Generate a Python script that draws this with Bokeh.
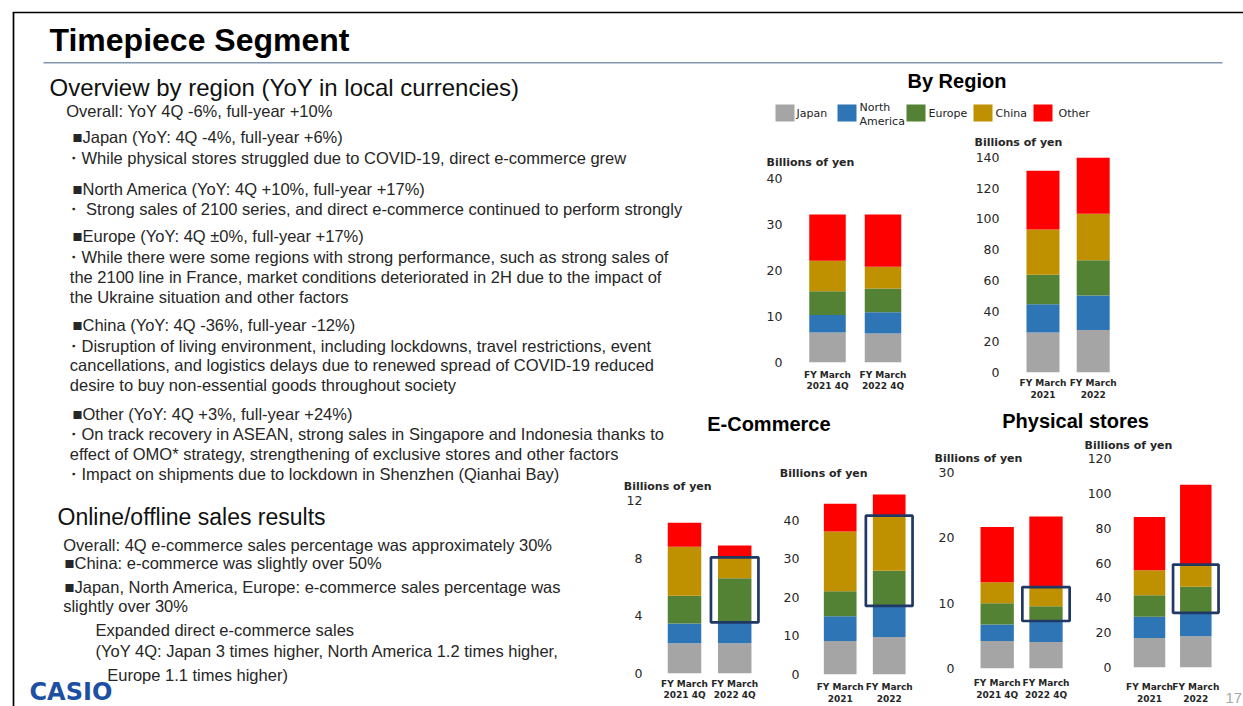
from bokeh.plotting import figure
from bokeh.models import Range1d, ColumnDataSource, FixedTicker, GridBox
from bokeh.core.properties import value
from bokeh.embed import file_html
from bokeh.resources import INLINE

# ---------------- data ----------------
regions = ["Japan", "North America", "Europe", "China", "Other"]
region_colors = ["#A5A5A5", "#2E75B6", "#548235", "#BF9000", "#FF0000"]

periods_4q = ["FY March\n2021 4Q", "FY March\n2022 4Q"]
periods_fy = ["FY March\n2021", "FY March\n2022"]

by_region_4q = {"Japan": [6.5, 6.3], "North America": [3.8, 4.6], "Europe": [5.2, 5.2],
                "China": [6.6, 4.7], "Other": [10.1, 11.4]}
by_region_fy = {"Japan": [26.0, 27.6], "North America": [18.5, 22.5], "Europe": [19.1, 23.0],
                "China": [29.5, 30.2], "Other": [38.2, 36.7]}
ecommerce_4q = {"Japan": [2.1, 2.1], "North America": [1.36, 1.45], "Europe": [1.94, 3.05],
                "China": [3.4, 1.45], "Other": [1.66, 0.82]}
ecommerce_fy = {"Japan": [8.7, 9.7], "North America": [6.4, 8.1], "Europe": [6.5, 9.1],
                "China": [15.5, 14.3], "Other": [7.2, 5.5]}
stores_4q = {"Japan": [4.2, 4.07], "North America": [2.55, 3.2], "Europe": [3.25, 2.25],
             "China": [3.2, 2.95], "Other": [8.45, 10.8]}
stores_fy = {"Japan": [16.9, 18.0], "North America": [12.3, 13.4], "Europe": [12.3, 14.9],
             "China": [14.3, 12.8], "Other": [30.6, 45.8]}

ticks_region_4q = [0, 10, 20, 30, 40]
ticks_region_fy = [0, 20, 40, 60, 80, 100, 120, 140]
ticks_ecom_4q = [0, 4, 8, 12]
ticks_ecom_fy = [0, 10, 20, 30, 40]
ticks_store_4q = [0, 10, 20, 30]
ticks_store_fy = [0, 20, 40, 60, 80, 100, 120]

unit_text = "Billions of yen"
boxed_base = ["Japan", "North America"]
boxed_segments = ["Europe", "China"]

title_text = "Timepiece Segment"
overview_heading = "Overview by region (YoY in local currencies)"
overview_lines = [
    "Overall: YoY 4Q -6%, full-year +10%",
    "■Japan (YoY: 4Q -4%, full-year +6%)",
    "・While physical stores struggled due to COVID-19, direct e-commerce grew",
    "■North America (YoY: 4Q +10%, full-year +17%)",
    "・ Strong sales of 2100 series, and direct e-commerce continued to perform strongly",
    "■Europe (YoY: 4Q ±0%, full-year +17%)",
    "・While there were some regions with strong performance, such as strong sales of",
    "the 2100 line in France, market conditions deteriorated in 2H due to the impact of",
    "the Ukraine situation and other factors",
    "■China (YoY: 4Q -36%, full-year -12%)",
    "・Disruption of living environment, including lockdowns, travel restrictions, event",
    "cancellations, and logistics delays due to renewed spread of COVID-19 reduced",
    "desire to buy non-essential goods throughout society",
    "■Other (YoY: 4Q +3%, full-year +24%)",
    "・On track recovery in ASEAN, strong sales in Singapore and Indonesia thanks to",
    "effect of OMO* strategy, strengthening of exclusive stores and other factors",
    "・Impact on shipments due to lockdown in Shenzhen (Qianhai Bay)",
]
online_heading = "Online/offline sales results"
online_lines = [
    "Overall: 4Q e-commerce sales percentage was approximately 30%",
    "■China: e-commerce was slightly over 50%",
    "■Japan, North America, Europe: e-commerce sales percentage was",
    "slightly over 30%",
    "Expanded direct e-commerce sales",
    "(YoY 4Q: Japan 3 times higher, North America 1.2 times higher,",
    "Europe 1.1 times higher)",
]
section_titles = ["By Region", "E-Commerce", "Physical stores"]

# ---------------- layout (slide pixel positions, baselines) ----------------
X0, X1, Y0, Y1 = 0, 1243, 0, 706
overview_x = [65.7, 72, 64, 72, 64, 72, 64, 69.3, 69.3, 72, 64, 69.3, 69.3, 72, 64, 69.3, 64]
overview_y = [116.7, 142.7, 163.3, 194, 214, 241.7, 262.7, 282.7, 302.7, 330.7, 351, 370.7,
              390.7, 419.3, 439.3, 459.3, 479.3]
online_x = [62.7, 64, 64, 62.7, 95, 95, 106.7]
online_y = [550, 568.3, 592.7, 611.7, 635, 656.7, 680]
section_xy = [(907, 87.3), (706.7, 430.5), (1001.7, 427.3)]
legend_left = [775, 837, 906, 973, 1033]
legend_text_x = [796, 859, 928, 995, 1058]

BODY_FONT = "Liberation Sans"
CHART_FONT = "DejaVu Sans"
MID = 0.35  # baseline -> middle of em box, in em

charts = [
    dict(data=by_region_4q, cats=periods_4q, ticks=ticks_region_4q, ymax=40, tick_right=782,
         y_zero=361.5, y_top=178.3, bar_x=(827, 882.5), bar_w=36.5, unit_xy=(766, 161.7),
         cat_y=374, box=False),
    dict(data=by_region_fy, cats=periods_fy, ticks=ticks_region_fy, ymax=140, tick_right=999.3,
         y_zero=371.8, y_top=157.3, bar_x=(1042.5, 1092.7), bar_w=33, unit_xy=(974, 141.7),
         cat_y=382.3, box=False),
    dict(data=ecommerce_4q, cats=periods_4q, ticks=ticks_ecom_4q, ymax=12, tick_right=641.7,
         y_zero=672.7, y_top=500, bar_x=(684, 734.2), bar_w=33.5, unit_xy=(623.3, 486),
         cat_y=683, box=True),
    dict(data=ecommerce_fy, cats=periods_fy, ticks=ticks_ecom_fy, ymax=48, tick_right=799.3,
         y_zero=674.5, y_top=489.1, bar_x=(839.7, 888.7), bar_w=32.7, unit_xy=(779.3, 473.3),
         cat_y=686, box=True),
    dict(data=stores_4q, cats=periods_4q, ticks=ticks_store_4q, ymax=30, tick_right=954.3,
         y_zero=667.7, y_top=471.7, bar_x=(996.7, 1045.5), bar_w=33.3, unit_xy=(934, 458.3),
         cat_y=682.5, box=True),
    dict(data=stores_fy, cats=periods_fy, ticks=ticks_store_fy, ymax=120, tick_right=1111,
         y_zero=667, y_top=458.3, bar_x=(1149, 1195.3), bar_w=31.5, unit_xy=(1084, 445),
         cat_y=686, box=True),
]

# ---------------- slide background figure ----------------
p0 = figure(width=X1 - X0, height=Y1 - Y0, x_range=Range1d(X0, X1), y_range=Range1d(Y1, Y0),
            x_axis_type=None, y_axis_type=None, output_backend="svg", toolbar_location=None,
            title=None, min_border=0, outline_line_color=None)
p0.grid.visible = False
p0.background_fill_color = "white"
p0.border_fill_color = "white"


def put(fig, xs, ys, texts, font, size_px, style="normal", color="#262626", align="left",
        from_baseline=True):
    # ys are baselines unless from_baseline is False (then they are middles)
    mids = [y - MID * size_px for y in ys] if from_baseline else list(ys)
    fig.text(x=xs, y=mids, text=texts, text_font=value(font), text_font_size=value(f"{size_px}px"),
             text_font_style=style, text_color=color, text_align=align, text_baseline="middle")


# frame and rule
p0.segment(x0=[13, 12.2], y0=[12, 12], x1=[13, X1], y1=[Y1, 12], line_color="black", line_width=1.7)
p0.segment(x0=[43], y0=[62.3], x1=[1222], y1=[62.3], line_color="#8497B0", line_width=1.6)

put(p0, [49], [50.5], [title_text], BODY_FONT, 32, style="bold", color="black")
put(p0, [49], [95], [overview_heading], BODY_FONT, 24, color="#111111")
put(p0, overview_x, overview_y, overview_lines, BODY_FONT, 16.5)
put(p0, [57], [525], [online_heading], BODY_FONT, 23, color="#111111")
put(p0, online_x, online_y, online_lines, BODY_FONT, 16.5)
put(p0, [29], [691], ["CASIO"], CHART_FONT, 24, style="bold", color="#1D50A2", from_baseline=False)
put(p0, [1225], [697], ["17"], BODY_FONT, 15, color="#A6A6A6", from_baseline=False)

put(p0, [xy[0] for xy in section_xy], [xy[1] for xy in section_xy], section_titles, BODY_FONT,
    20, style="bold", color="black")

# legend
p0.quad(left=legend_left, right=[l + 19 for l in legend_left], top=[104] * 5, bottom=[121] * 5,
        fill_color=region_colors, line_color=None)
lx, ly, lt = [], [], []
for x, name in zip(legend_text_x, regions):
    parts = name.split(" ")
    if len(parts) == 1:
        lx.append(x); ly.append(112.5); lt.append(name)
    else:
        for j, part in enumerate(parts):
            lx.append(x); ly.append(106.7 + 14 * j); lt.append(part)
put(p0, lx, ly, lt, CHART_FONT, 11, color="#222222", from_baseline=False)

# unit labels and category labels of every chart
ux, uy, ut, cx, cy, ct = [], [], [], [], [], []
for c in charts:
    ux.append(c["unit_xy"][0]); uy.append(c["unit_xy"][1]); ut.append(unit_text)
    for i, cat in enumerate(c["cats"]):
        for j, line in enumerate(cat.split("\n")):
            cx.append(c["bar_x"][i]); cy.append(c["cat_y"] + 11.5 * j); ct.append(line)
put(p0, ux, uy, ut, CHART_FONT, 11, style="bold", color="#262626", from_baseline=False)
put(p0, cx, cy, ct, CHART_FONT, 9, style="bold", color="#262626", align="center",
    from_baseline=False)

# ---------------- chart figures ----------------
BL, BT, BR, BB = 40, 12, 4, 7


def make_chart(c):
    L = round(c["tick_right"] + 5)
    T = round(c["y_top"])
    B = round(c["y_zero"])
    x0, x1 = c["bar_x"]
    d = x1 - x0
    R = round(x1 + c["bar_w"] / 2 + 10)
    xs = -(x0 - L) / d
    xe = 1 + (R - x1) / d
    W = BL + (R - L) + BR
    H = BT + (B - T) + BB
    p = figure(width=W, height=H, x_range=Range1d(xs, xe), y_range=Range1d(0, c["ymax"]),
               x_axis_type=None, output_backend="svg", toolbar_location=None, title=None,
               min_border_left=BL, min_border_right=BR, min_border_top=BT, min_border_bottom=BB,
               outline_line_color=None)
    p.background_fill_alpha = 0
    p.border_fill_alpha = 0
    p.grid.visible = False
    ax = p.yaxis[0]
    ax.ticker = FixedTicker(ticks=c["ticks"])
    ax.axis_line_color = None
    ax.major_tick_line_color = None
    ax.minor_tick_line_color = None
    ax.major_tick_out = 0
    ax.major_tick_in = 0
    ax.major_label_standoff = 5
    ax.major_label_text_font = CHART_FONT
    ax.major_label_text_font_size = "12.5px"
    ax.major_label_text_color = "#262626"

    data = c["data"]
    src = ColumnDataSource(dict(x=[0, 1], **{r: data[r] for r in regions}))
    p.vbar_stack(regions, x="x", width=c["bar_w"] / d, fill_color=region_colors, line_color=None,
                 source=src)
    if c["box"]:
        base = [sum(data[r][i] for r in boxed_base) for i in range(2)]
        top = [base[i] + sum(data[r][i] for r in boxed_segments) for i in range(2)]
        half = (c["bar_w"] / 2 + 7) / d
        p.quad(left=[1 - half], right=[1 + half], bottom=[base[1]], top=[top[1]],
               fill_alpha=0, line_color="#203864", line_width=2.7)
    return p, (L - BL, T - BT, R + BR, B + BB)


chart_figs = [make_chart(c) for c in charts]

xs_break = sorted({X0, X1} | {b[0] for _, b in chart_figs} | {b[2] for _, b in chart_figs})
ys_break = sorted({Y0, Y1} | {b[1] for _, b in chart_figs} | {b[3] for _, b in chart_figs})
cols = [f"{b - a}px" for a, b in zip(xs_break[:-1], xs_break[1:])]
rows = [f"{b - a}px" for a, b in zip(ys_break[:-1], ys_break[1:])]

children = [(p0, 0, 0, len(rows), len(cols))]
for fig, (l, t, r, b) in chart_figs:
    c0 = xs_break.index(l); c1 = xs_break.index(r)
    r0 = ys_break.index(t); r1 = ys_break.index(b)
    children.append((fig, r0, c0, r1 - r0, c1 - c0))

grid = GridBox(children=children, rows=rows, cols=cols, spacing=0)

open("out.html", "w").write(file_html(grid, INLINE))
